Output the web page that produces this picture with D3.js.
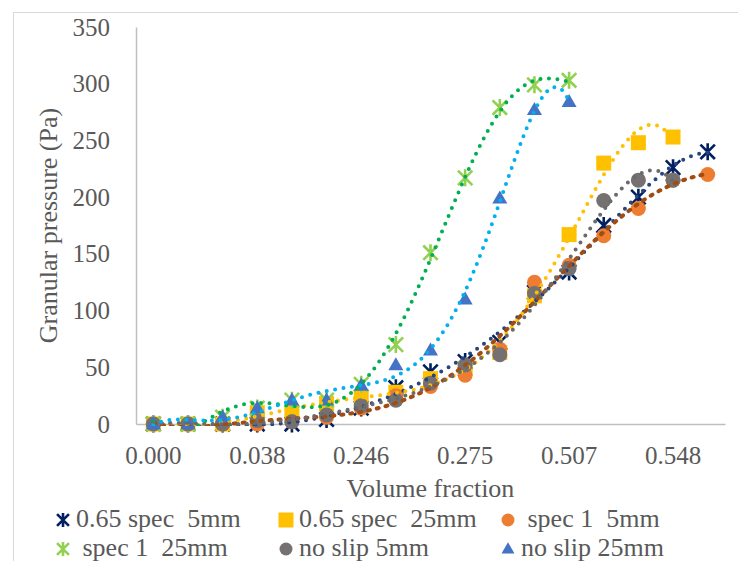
<!DOCTYPE html>
<html>
<head>
<meta charset="utf-8">
<script src="https://cdn.jsdelivr.net/npm/d3@7"></script>
<style>
  body { margin: 0; background: #fff; }
  svg { display: block; }
  text { font-family: "Liberation Serif", "Times New Roman", serif; fill: #595959; white-space: pre; }
</style>
</head>
<body>
<svg id="chart" width="738" height="561"></svg>
<script>
// Category axis: 17 volume-fraction steps, every third one labelled
const categoryCount = 17;
const tickLabels = ["0.000", "0.038", "0.246", "0.275", "0.507", "0.548"];
const tickEvery = 3;
const yTicks = [0, 50, 100, 150, 200, 250, 300, 350];

// Granular pressure (Pa) per volume-fraction step
const spec065_5mm  = [0, 0, 0, 0, 0, 4, 14, 32, 46, 55, 72, 116, 134, 175, 200, 226, 240];
const spec065_25mm = [0, 0, 0, 10, 10, 18, 24, 28, 40, 49, 63, 113, 167, 230, 248, 253];
const spec1_5mm    = [0, 0, 0, 0, 2, 6, 14, 25, 33, 43, 66, 125, 140, 166, 190, 215, 220];
const spec1_25mm   = [0, 0, 6, 14, 21, 21, 35, 70, 151, 217, 279, 299, 303];
const noSlip_5mm   = [0, 0, 0, 3, 2, 8, 16, 21, 36, 52, 61, 115, 137, 197, 215, 215];
const noSlip_25mm  = [0, 0, 6, 14, 21, 21, 34, 52, 65, 110, 199, 277, 284];

const seriesNames = ["0.65 spec  5mm", "0.65 spec  25mm", " spec 1  5mm",
                     " spec 1  25mm", "no slip 5mm", "no slip 25mm"];

const series = [
  { name: seriesNames[0], values: spec065_5mm,  marker: "asterisk", color: "#002060", trend: "#27457F", dash: "0 8.5" },
  { name: seriesNames[1], values: spec065_25mm, marker: "square",   color: "#FFC000", trend: "#FFC000", dash: "0 8.5" },
  { name: seriesNames[2], values: spec1_5mm,    marker: "circle",   color: "#ED7D31", trend: "#A24C12", dash: "2 7" },
  { name: seriesNames[3], values: spec1_25mm,   marker: "asterisk", color: "#92D050", trend: "#00B050", dash: "0 8.5" },
  { name: seriesNames[4], values: noSlip_5mm,   marker: "circle",   color: "#767171", trend: "#6A6A6A", dash: "0 8.5" },
  { name: seriesNames[5], values: noSlip_25mm,  marker: "triangle", color: "#4472C4", trend: "#00B0F0", dash: "0 8.5" }
];

const svg = d3.select("#chart");
const W = 738, H = 561;
const plot = { left: 136, right: 725, top: 27, bottom: 424 };

// chart area frame
svg.append("rect")
  .attr("x", 13.5).attr("y", 12.5)
  .attr("width", W + 20).attr("height", H + 20)
  .attr("fill", "none").attr("stroke", "#D9D9D9").attr("stroke-width", 1);

const x = d3.scaleBand()
  .domain(d3.range(categoryCount))
  .range([plot.left, plot.right])
  .paddingInner(0).paddingOuter(0);
const xc = i => x(i) + x.bandwidth() / 2;
const xIdx = d3.scaleLinear().domain([0, categoryCount - 1])
  .range([xc(0), xc(categoryCount - 1)]);

const y = d3.scaleLinear().domain([0, 350]).range([plot.bottom, plot.top]);

// axes
const yAxis = d3.axisLeft(y).tickValues(yTicks).tickSize(0).tickPadding(26);
const gy = svg.append("g").attr("transform", `translate(${plot.left},0)`).call(yAxis);
gy.select(".domain").attr("stroke", "#BFBFBF").attr("stroke-width", 1.5);
gy.selectAll("text").style("font-size", "25px").attr("fill", "#595959")
  .style("font-family", '"Liberation Serif", serif');

const xAxis = d3.axisBottom(x)
  .tickValues(d3.range(0, categoryCount, tickEvery))
  .tickFormat(i => tickLabels[i / tickEvery])
  .tickSize(0).tickPadding(22);
const gx = svg.append("g").attr("transform", `translate(0,${plot.bottom})`).call(xAxis);
gx.select(".domain").attr("stroke", "#BFBFBF").attr("stroke-width", 1.5);
gx.selectAll("text").style("font-size", "25px").attr("fill", "#595959")
  .style("font-family", '"Liberation Serif", serif');

// axis titles
svg.append("text")
  .attr("transform", `translate(57,${(plot.top + plot.bottom) / 2}) rotate(-90)`)
  .attr("text-anchor", "middle")
  .style("font-size", "26px")
  .text("Granular pressure (Pa)");
svg.append("text")
  .attr("x", (plot.left + plot.right) / 2).attr("y", 497)
  .attr("text-anchor", "middle")
  .style("font-size", "26px")
  .text("Volume fraction");

// marker shapes
function markerPath(type, s) {
  const h = s / 2;
  if (type === "asterisk") {
    const a = h * 0.85;
    return `M0,${-h}L0,${h}M${-a},${-a}L${a},${a}M${-a},${a}L${a},${-a}`;
  }
  if (type === "square") return `M${-h},${-h}H${h}V${h}H${-h}Z`;
  if (type === "triangle") {
    const th = s * 0.87;
    return `M0,${-th * 0.6}L${h},${th * 0.4}L${-h},${th * 0.4}Z`;
  }
  return d3.symbol(d3.symbolCircle, Math.PI * h * h)();
}
function drawMarker(g, s, sz) {
  const p = g.append("path").attr("d", markerPath(s.marker, sz));
  if (s.marker === "asterisk") {
    p.attr("fill", "none").attr("stroke", s.color).attr("stroke-width", 2.6);
  } else {
    p.attr("fill", s.color);
  }
  return p;
}
const markerSize = { asterisk: 17, square: 15, circle: 15, triangle: 15 };

// least-squares polynomial trendline (order 6, x = 1..n)
function polyFit(vals, order) {
  const n = vals.length;
  const xs = vals.map((_, i) => i + 1);
  const mid = (1 + n) / 2, half = (n - 1) / 2;
  const ts = xs.map(v => (v - mid) / half);
  const m = order + 1;
  const A = Array.from({ length: m }, () => new Array(m + 1).fill(0));
  for (let k = 0; k < n; k++) {
    const pw = [1];
    for (let j = 1; j < 2 * m; j++) pw.push(pw[j - 1] * ts[k]);
    for (let r = 0; r < m; r++) {
      for (let c = 0; c < m; c++) A[r][c] += pw[r + c];
      A[r][m] += pw[r] * vals[k];
    }
  }
  for (let c = 0; c < m; c++) {
    let piv = c;
    for (let r = c + 1; r < m; r++) if (Math.abs(A[r][c]) > Math.abs(A[piv][c])) piv = r;
    [A[c], A[piv]] = [A[piv], A[c]];
    for (let r = 0; r < m; r++) {
      if (r === c) continue;
      const f = A[r][c] / A[c][c];
      for (let k = c; k <= m; k++) A[r][k] -= f * A[c][k];
    }
  }
  const coef = A.map((row, i) => row[m] / row[i]);
  return xv => {
    const t = (xv - mid) / half;
    let s = 0, p = 1;
    for (let i = 0; i < m; i++) { s += coef[i] * p; p *= t; }
    return s;
  };
}

svg.append("clipPath").attr("id", "plotClip")
  .append("rect").attr("x", plot.left).attr("y", plot.top)
  .attr("width", plot.right - plot.left).attr("height", plot.bottom - plot.top + 2);

// markers
const gMarks = svg.append("g");
series.forEach(s => {
  s.values.forEach((v, i) => {
    const g = gMarks.append("g").attr("transform", `translate(${xc(i)},${y(v)})`);
    drawMarker(g, s, markerSize[s.marker]);
  });
});

// trendlines
const gTrend = svg.append("g").attr("clip-path", "url(#plotClip)");
const line = d3.line().x(d => xIdx(d[0] - 1)).y(d => y(d[1]));
series.forEach(s => {
  const f = polyFit(s.values, 6);
  const n = s.values.length;
  const pts = d3.range(0, 301).map(k => {
    const xv = 1 + (n - 1) * k / 300;
    return [xv, f(xv)];
  });
  gTrend.append("path")
    .attr("d", line(pts))
    .attr("fill", "none")
    .attr("stroke", s.trend)
    .attr("stroke-width", 4)
    .attr("stroke-linecap", "round")
    .attr("stroke-dasharray", s.dash);
});

// legend
const legendCols = [63, 286, 508];
const legendRows = [520, 549];
series.forEach((s, i) => {
  const cx = legendCols[i % 3], cy = legendRows[Math.floor(i / 3)];
  const g = svg.append("g").attr("transform", `translate(${cx},${cy})`);
  drawMarker(g, s, s.marker === "square" ? 15 : (s.marker === "asterisk" ? 14 : 13));
  svg.append("text")
    .attr("x", cx + 13).attr("y", cy + 7)
    .style("font-size", "26px")
    .text(s.name);
});
</script>
</body>
</html>
